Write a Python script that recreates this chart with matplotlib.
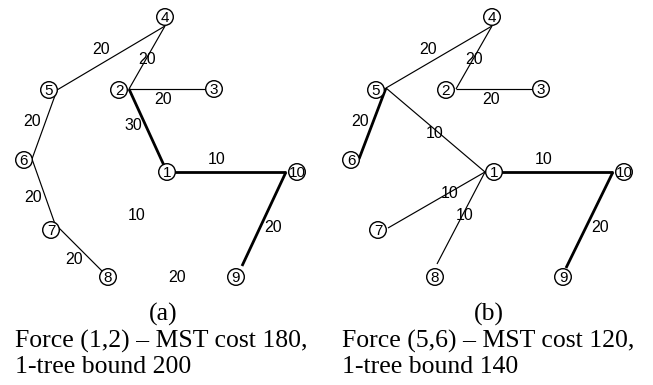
import matplotlib.pyplot as plt
from matplotlib.patches import Circle

plt.rcParams['backend'] = 'Agg'

# node circle centres (pixel coordinates, y down) for panel (a); panel (b) is shifted right
nodes = ['1', '2', '3', '4', '5', '6', '7', '8', '9', '10']
node_x = [167, 119, 214, 165, 49, 24, 51, 108, 236, 297]
node_y = [172, 90, 89, 17, 90, 160, 230, 277, 277, 172]
shift_b = 327

# where the edges attach, relative to the circle centre (hand-drawn figure)
ports_a = {'1': (0, 0), '2': (10, -1), '3': (0, 0), '4': (0, 9), '5': (8, 0),
           '6': (8, -1), '7': (4, -6), '8': (0, 0), '9': (6, -11), '10': (-11, 0)}
ports_b = {'1': (-9, 0), '2': (10, -1), '3': (0, 0), '4': (0, 9), '5': (10, -2),
           '6': (8, -1), '7': (10, -2), '8': (2, -13), '9': (3, -9), '10': (-11, 0)}

# edges: (from, to, thick)
edges_a = [('4', '5', False), ('4', '2', False), ('2', '3', False), ('2', '1', True),
           ('1', '10', True), ('10', '9', True), ('5', '6', False), ('6', '7', False),
           ('7', '8', False)]
edges_b = [('4', '5', False), ('4', '2', False), ('2', '3', False), ('5', '6', True),
           ('5', '1', False), ('1', '10', True), ('10', '9', True), ('1', '7', False),
           ('1', '8', False)]

# edge weight labels: (text, x, y)
labels_a = [('20', 101, 49), ('20', 147, 59), ('20', 163, 99), ('20', 32, 122),
            ('30', 133, 125), ('10', 217, 160), ('20', 33, 198), ('10', 137, 216),
            ('20', 273, 228), ('20', 74, 259), ('20', 177, 277)]
labels_b = [('20', 428, 49), ('20', 474, 59), ('20', 491, 99), ('20', 360, 122),
            ('10', 435, 133), ('10', 544, 160), ('10', 450, 193), ('10', 465, 215),
            ('20', 600, 228)]

captions = [('(a)', 163, 'Force (1,2) – MST cost 180,', '1-tree bound 200', 15),
            ('(b)', 489, 'Force (5,6) – MST cost 120,', '1-tree bound 140', 342)]

fig = plt.figure(figsize=(6.53, 3.85), dpi=100)
ax = fig.add_axes([0, 0, 1, 1])
ax.set_xlim(0, 653)
ax.set_ylim(385, 0)
ax.axis('off')

panels = [(0, ports_a, edges_a), (shift_b, ports_b, edges_b)]
for dx, ports, edges in panels:
    centre = {n: (x + dx, y) for n, x, y in zip(nodes, node_x, node_y)}
    anchor = {n: (centre[n][0] + ports[n][0], centre[n][1] + ports[n][1]) for n in nodes}
    for u, v, thick in edges:
        ax.plot([anchor[u][0], anchor[v][0]], [anchor[u][1], anchor[v][1]], color='black',
                lw=2.0 if thick else 0.85, solid_capstyle='butt', zorder=1)
    for n, (x, y) in centre.items():
        ax.add_patch(Circle((x, y), 8.3, facecolor='white', edgecolor='black', lw=1.0, zorder=2))
        ax.text(x, y + 0.8, n, ha='center', va='center', fontsize=11,
                family='Liberation Sans', zorder=3)

for t, x, y in labels_a + labels_b:
    ax.text(x, y, t, ha='center', va='center', fontsize=11.5, family='Liberation Sans', zorder=4)

for tag, tx, line1, line2, lx in captions:
    ax.text(tx, 314, tag, ha='center', va='center', fontsize=18.5, family='Liberation Serif')
    ax.text(lx, 341, line1, ha='left', va='center', fontsize=18.5, family='Liberation Serif')
    ax.text(lx, 367, line2, ha='left', va='center', fontsize=18.5, family='Liberation Serif')

fig.savefig('out.png', dpi=100)
